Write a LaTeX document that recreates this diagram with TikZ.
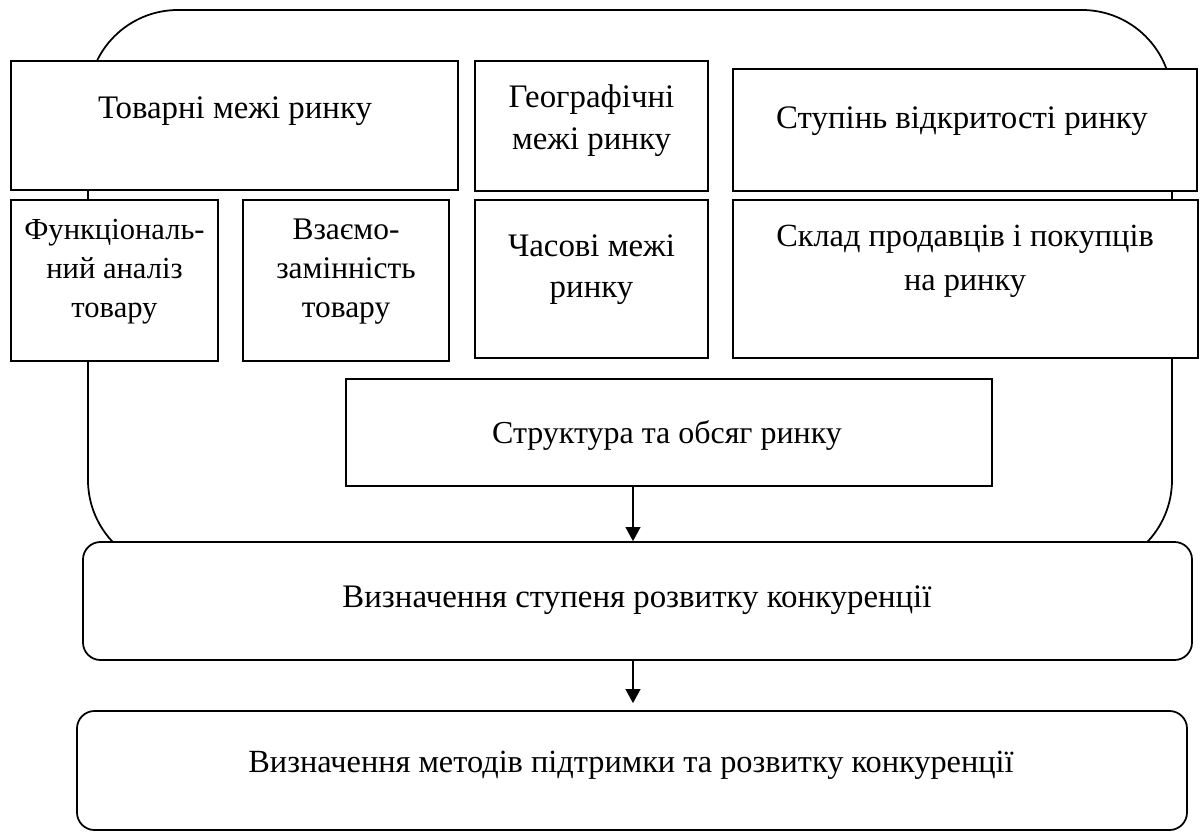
\documentclass[tikz,border=0pt]{standalone}
\usepackage{fontspec}
\setmainfont{Liberation Serif}
\usetikzlibrary{arrows.meta}
\newcommand\fsz[2]{\fontsize{#1}{#2}\selectfont}
\newcommand\boxat[6]{\node[#1, minimum width={(#5-#3)*0.02cm}, minimum height={(#6-#4)*0.02cm}] (#2) at ({(#3+#5)/2},{(#4+#6)/2}) {};}
\tikzset{
  frame/.style={draw, line width=1pt, rounded corners=1.8cm},
  box/.style={draw, fill=white, line width=1pt, inner sep=0pt, rectangle},
  rbox/.style={box, rounded corners=0.35cm},
  txt/.style={inner sep=0pt, align=center, anchor=north},
  arr/.style={line width=0.8pt, -{Triangle[length=8pt,width=8.5pt]}},
}
\begin{document}
\begin{tikzpicture}[x=0.02cm, y=-0.02cm]
\useasboundingbox (0,0) rectangle (1201,832);
% outer rounded frame
\draw[frame] (88,10) rectangle (1172,570);
% boxes
\boxat{box}{goods}{11}{61}{458}{190}
\boxat{box}{geo}{475}{61}{708}{191}
\boxat{box}{open}{733}{69}{1197}{191}
\boxat{box}{func}{11}{200}{218}{361}
\boxat{box}{subst}{243}{200}{449}{361}
\boxat{box}{time}{475}{200}{708}{358}
\boxat{box}{sell}{733}{200}{1198}{358}
\boxat{box}{struct}{346}{379}{992}{486}
\boxat{rbox}{det1}{83}{542}{1192}{660}
\boxat{rbox}{det2}{77}{711}{1187}{830}
% texts
\node[txt, font={\fsz{18.7}{22.2}}] (goods-t) at (235,90.7) {\strut Товарні межі ринку};
\node[txt, font={\fsz{18.7}{23.9}}] (geo-t) at (591.5,77.6) {\strut Географічні\\\strut межі ринку};
\node[txt, font={\fsz{18.7}{22.2}}] (open-t) at (962,100.7) {\strut Ступінь відкритості ринку};
\node[txt, font={\fsz{17.4}{22.2}}] (func-t) at (114.5,211.7) {\strut Функціональ-\\\strut ний аналіз\\\strut товару};
\node[txt, font={\fsz{17.9}{22.2}}] (subst-t) at (346,211.7) {\strut Взаємо-\\\strut замінність\\\strut товару};
\node[txt, font={\fsz{18.7}{23.3}}] (time-t) at (591.5,227.3) {\strut Часові межі\\\strut ринку};
\node[txt, font={\fsz{18.4}{25}}] (sell-t) at (965,215.2) {\strut Склад продавців і покупців\\\strut на ринку};
\node[txt, font={\fsz{18.2}{22.2}}] (struct-t) at (667,415.7) {\strut Структура та обсяг ринку};
\node[txt, font={\fsz{18.7}{22.2}}] (det1-t) at (637,579.7) {\strut Визначення ступеня розвитку конкуренції};
\node[txt, font={\fsz{18.4}{22.2}}] (det2-t) at (631,744.7) {\strut Визначення методів підтримки та розвитку конкуренції};
% arrows
\coordinate (ax) at (633,0);
\draw[arr] (struct.south -| ax) -- (det1.north -| ax);
\draw[arr, shorten >=0.14cm] (det1.south -| ax) -- (det2.north -| ax);
\end{tikzpicture}
\end{document}
